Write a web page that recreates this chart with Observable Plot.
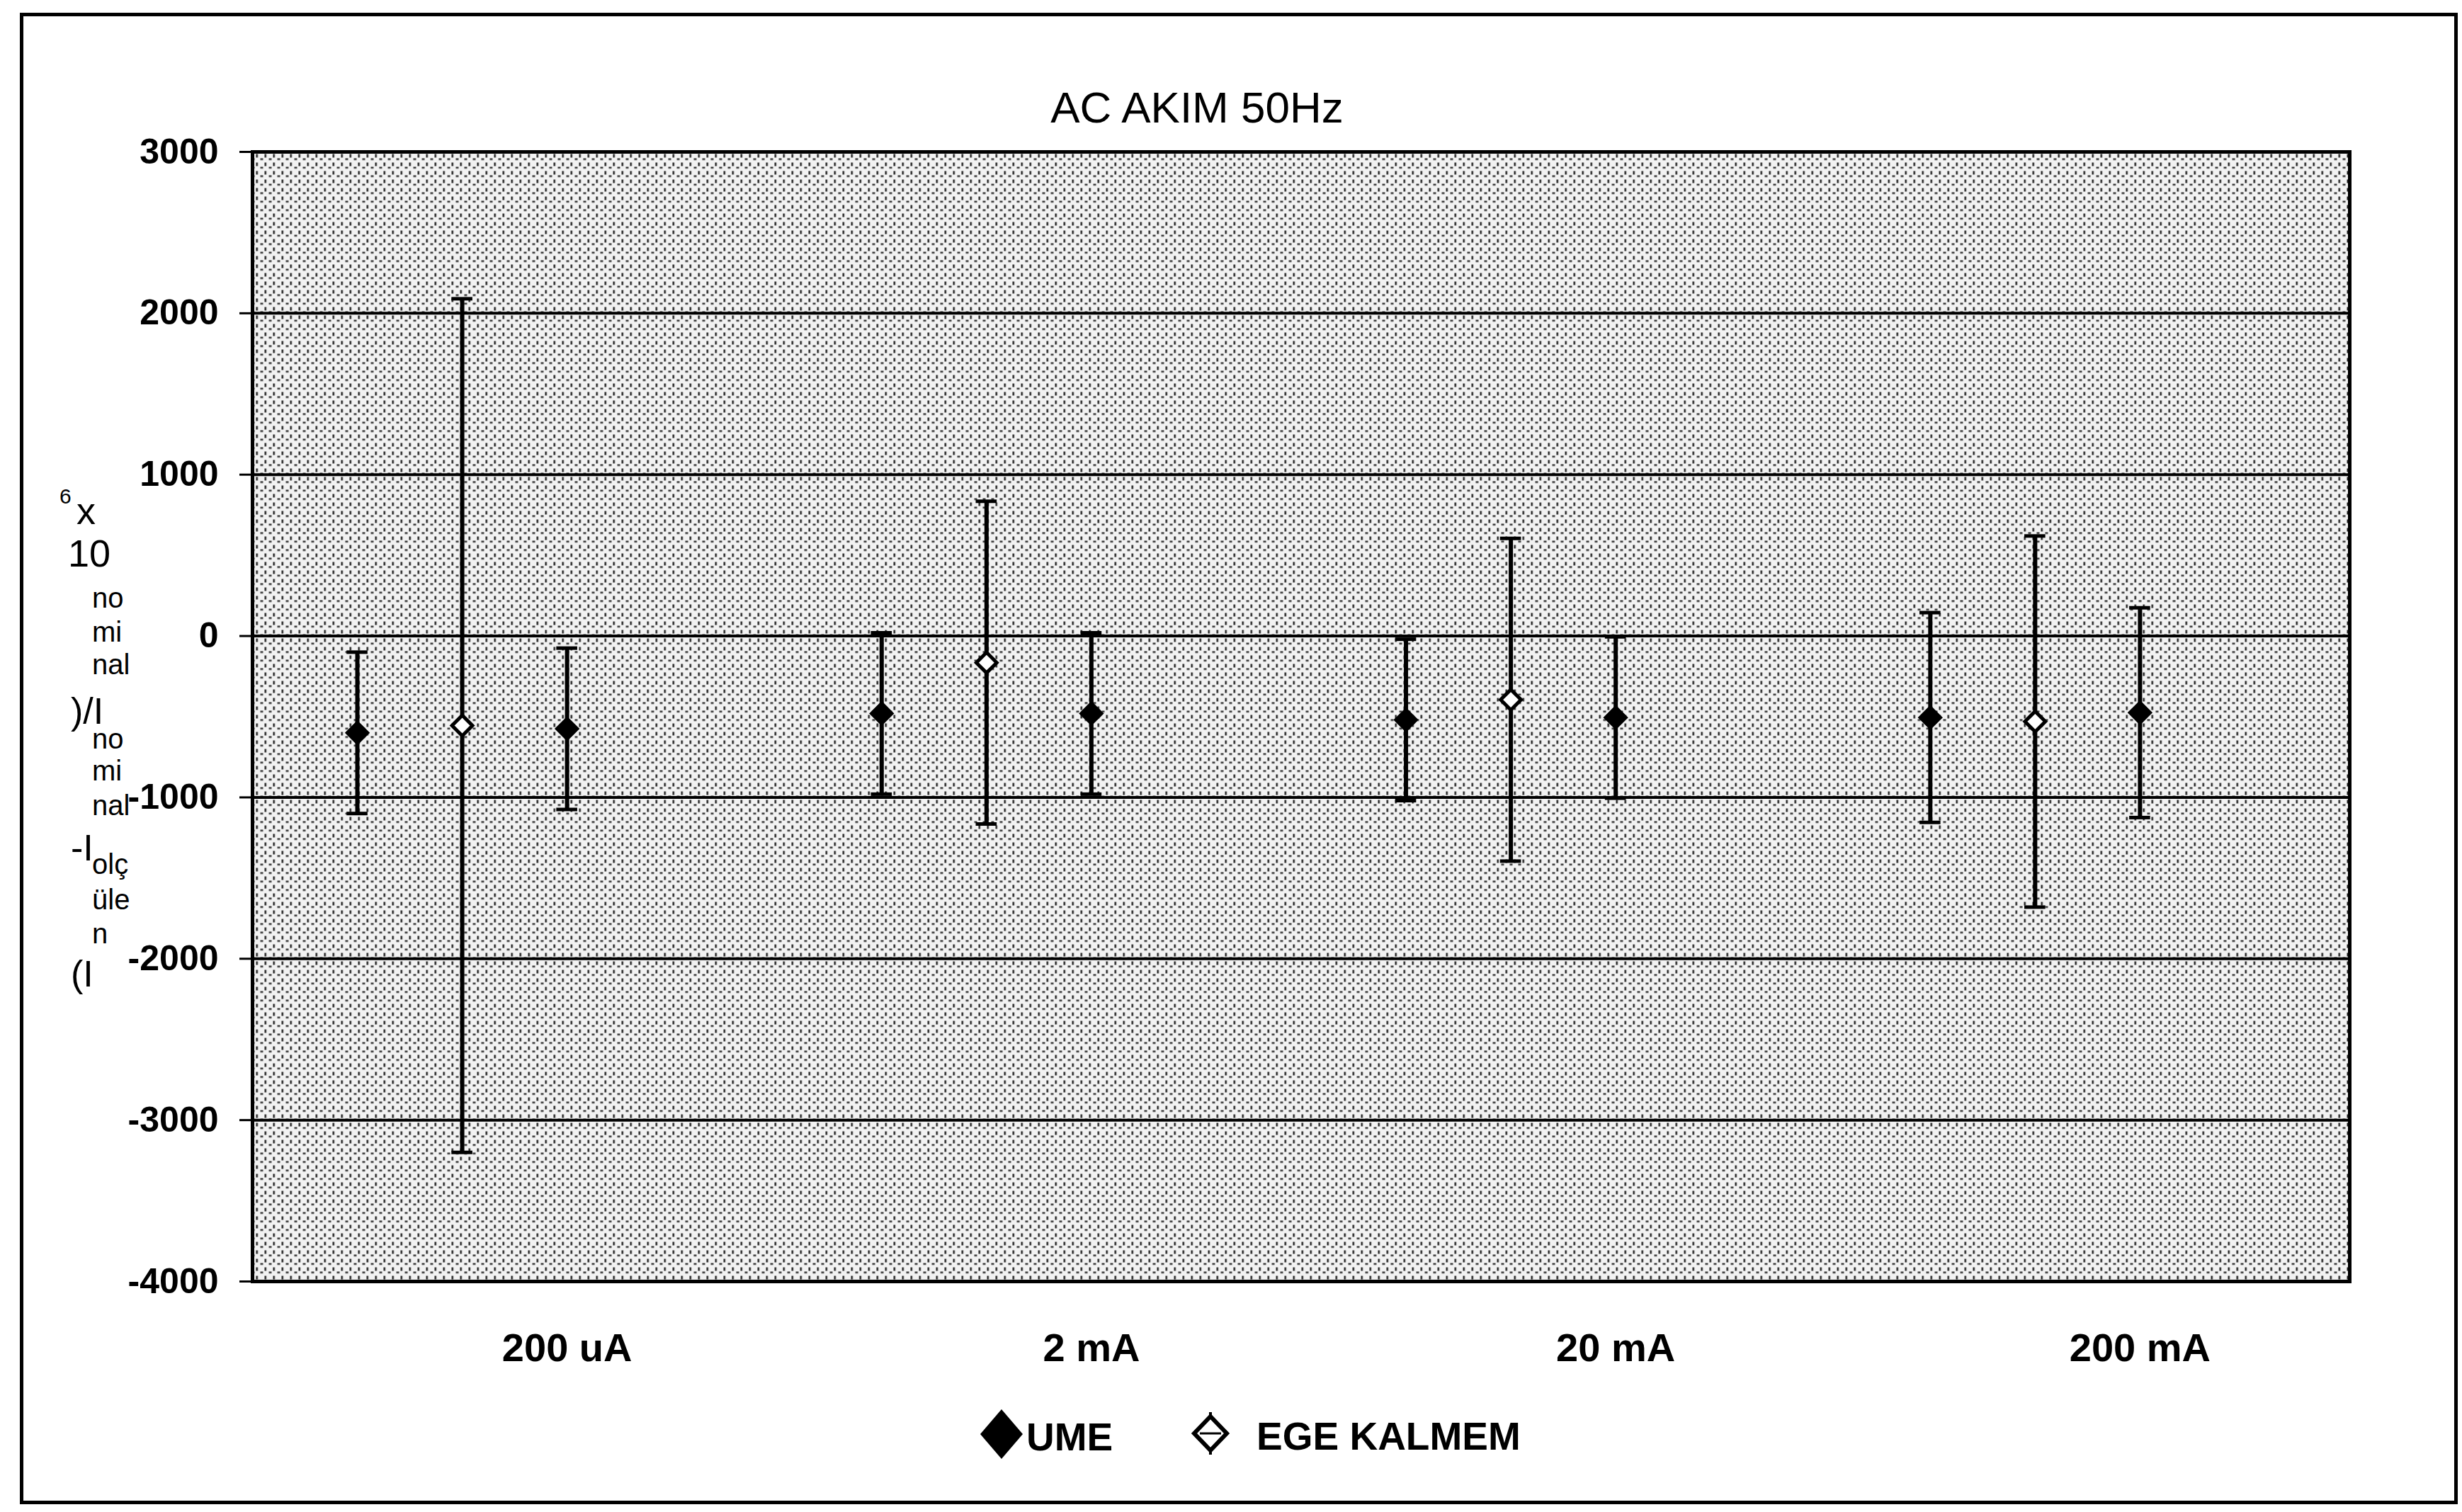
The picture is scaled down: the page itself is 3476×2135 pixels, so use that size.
<!DOCTYPE html>
<html>
<head>
<meta charset="utf-8">
<script src="https://cdn.jsdelivr.net/npm/d3@7"></script>
<script src="https://cdn.jsdelivr.net/npm/@observablehq/plot@0.6"></script>
<style>
  html, body { margin: 0; padding: 0; background: #fff; }
  #page { position: relative; width: 3476px; height: 2135px; overflow: hidden;
          font-family: "Liberation Sans", Arial, Helvetica, sans-serif; color: #000; }
  #border { position: absolute; left: 28px; top: 18px; width: 3442px; height: 2106px;
            border: 5px solid #000; box-sizing: border-box; }
  #defs { position: absolute; width: 0; height: 0; }
  #chart { position: absolute; left: 0; top: 180px; }
  #overlay { position: absolute; left: 0; top: 0; pointer-events: none; }
  #overlay text { font-family: "Liberation Sans", Arial, Helvetica, sans-serif; fill: #000; }
</style>
</head>
<body>
<div id="page">
  <div id="border"></div>
  <svg id="defs" width="0" height="0">
    <defs>
      <pattern id="dots" width="12" height="12" patternUnits="userSpaceOnUse">
        <rect x="0" y="0" width="12" height="12" fill="#f2f2f2"></rect>
        <rect x="1" y="1" width="2.5" height="5" fill="#222"></rect>
        <rect x="7" y="7" width="4" height="2.5" fill="#333"></rect>
      </pattern>
    </defs>
  </svg>
  <div id="chart"></div>
  <svg id="overlay" width="3476" height="2135">
    <text x="1690" y="173" text-anchor="middle" font-size="62">AC AKIM 50Hz</text>
    <!-- garbled rotated y-axis title as it appears -->
    <text x="84" y="711" font-size="30">6</text>
    <text x="108" y="740" font-size="54">x</text>
    <text x="96" y="800" font-size="54">10</text>
    <text x="130" y="858" font-size="40">no</text>
    <text x="130" y="906" font-size="40">mi</text>
    <text x="130" y="952" font-size="40">nal</text>
    <text x="100" y="1022" font-size="52">)/I</text>
    <text x="130" y="1057" font-size="40">no</text>
    <text x="130" y="1102" font-size="40">mi</text>
    <text x="130" y="1151" font-size="40">nal</text>
    <text x="100" y="1215" font-size="52">-I</text>
    <text x="130" y="1234" font-size="40">olç</text>
    <text x="130" y="1284" font-size="40">üle</text>
    <text x="130" y="1332" font-size="40">n</text>
    <text x="100" y="1393" font-size="52">(I</text>
    <!-- legend -->
    <polygon points="1414,1990 1444,2025 1414,2060 1384,2025" fill="#000"></polygon>
    <text x="1449" y="2048" font-size="55" font-weight="bold">UME</text>
    <line x1="1709" y1="1994" x2="1709" y2="2054" stroke="#000" stroke-width="4"></line>
    <polygon points="1709,2000 1732,2024 1709,2048 1686,2024" fill="#fff" stroke="#000" stroke-width="6"></polygon>
    <line x1="1694" y1="2024" x2="1724" y2="2024" stroke="#000" stroke-width="3"></line>
    <text x="1774" y="2047" font-size="55" font-weight="bold">EGE KALMEM</text>
  </svg>
</div>
<script>
// Categories (current ranges)
const categories = ["200 uA", "2 mA", "20 mA", "200 mA"];
// Y axis tick values
const yTicks = [-4000, -3000, -2000, -1000, 0, 1000, 2000, 3000];
// Series: UME (first), EGE KALMEM, UME (second) — deviation x10^6 and error half-width
const umeA    = [-600, -480, -520, -505];
const umeAErr = [500, 500, 500, 650];
const ege     = [-555, -165, -395, -530];
const egeErr  = [2645, 1000, 1000, 1150];
const umeB    = [-575, -480, -505, -475];
const umeBErr = [500, 500, 500, 650];

const seriesList = [
  {name: "UME", values: umeA, errs: umeAErr},
  {name: "EGE KALMEM", values: ege, errs: egeErr},
  {name: "UME", values: umeB, errs: umeBErr}
];

const rows = [];
categories.forEach((cat, i) => {
  seriesList.forEach((s, k) => {
    const v = s.values[i], e = s.errs[i];
    rows.push({cat, series: s.name, x: i * 5 + 1 + k, y: v, lo: v - e, hi: v + e});
  });
});
const catTicks = categories.map((c, i) => i * 5 + 3);
const capHalf = 0.1;

const chart = Plot.plot({
  width: 3476,
  height: 1780,
  marginLeft: 356,
  marginRight: 159,
  marginTop: 34,
  marginBottom: 151,
  style: {background: "transparent", fontFamily: "'Liberation Sans', Arial, sans-serif", color: "#000", overflow: "visible"},
  x: {domain: [0, 20]},
  y: {domain: [-4000, 3000]},
  marks: [
    Plot.frame({fill: "url(#dots)"}),
    Plot.ruleY(yTicks, {stroke: "#000", strokeWidth: 4}),
    Plot.frame({stroke: "#000", strokeWidth: 5}),
    Plot.axisY({ticks: yTicks, tickSize: 18, tickPadding: 30, fontSize: 50, fontWeight: "bold",
                strokeWidth: 3, tickFormat: d => String(d), label: null}),
    Plot.axisX({ticks: catTicks, tickSize: 0, tickPadding: 73, fontSize: 56, fontWeight: "bold",
                tickFormat: d => categories[(d - 3) / 5], label: null}),
    Plot.ruleX(rows, {x: "x", y1: "lo", y2: "hi", stroke: "#000", strokeWidth: 6}),
    Plot.ruleY(rows, {y: "lo", x1: d => d.x - capHalf, x2: d => d.x + capHalf, stroke: "#000", strokeWidth: 5}),
    Plot.ruleY(rows, {y: "hi", x1: d => d.x - capHalf, x2: d => d.x + capHalf, stroke: "#000", strokeWidth: 5}),
    Plot.dot(rows.filter(d => d.series === "UME"), {x: "x", y: "y", symbol: "diamond2", r: 14, fill: "#000", stroke: "#000", strokeWidth: 3}),
    Plot.dot(rows.filter(d => d.series !== "UME"), {x: "x", y: "y", symbol: "diamond2", r: 13, fill: "#fff", stroke: "#000", strokeWidth: 5})
  ]
});
document.getElementById("chart").appendChild(chart);
</script>
</body>
</html>
